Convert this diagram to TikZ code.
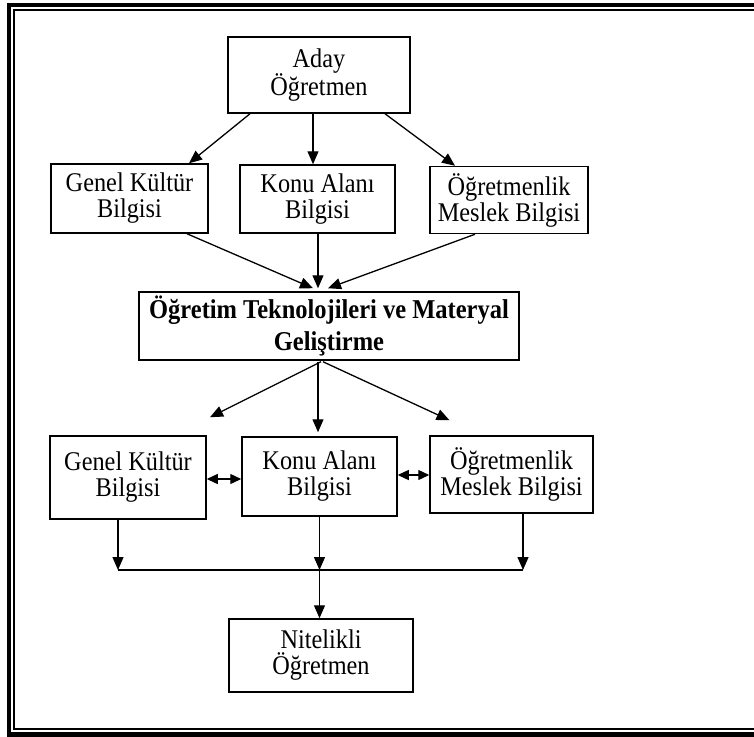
\documentclass[tikz,border=0pt]{standalone}
\usepackage{fontspec}
\setmainfont[FakeStretch=0.9]{Liberation Serif}
\usetikzlibrary{arrows.meta,calc}
\begin{document}
\begin{tikzpicture}[x=1pt,y=-1pt,
  box/.style={draw, line width=1.5pt, inner sep=0pt, align=center,
    font=\fontsize{27}{26}\selectfont},
  boldbox/.style={box, font=\bfseries\fontsize{27.2}{32}\selectfont},
  conn/.style={line width=1.3pt},
  arr/.style={conn, -{Triangle[length=13pt,width=11pt]}},
  darr/.style={conn, {Triangle[length=11pt,width=10pt]}-{Triangle[length=11pt,width=10pt]}},
  framethick/.style={line width=4.5pt},
  framethin/.style={line width=2pt}]
\useasboundingbox (0,0) rectangle (754,736);
% frame
\draw[framethick] (800,5) -- (9,5) -- (9,734.5) -- (800,734.5);
\draw[framethin] (800,10) -- (14,10) -- (14,729) -- (800,729);
% nodes
\node[box, minimum width=182pt, minimum height=76pt] (aday) at (319,75) {Aday\\Öğretmen};
\node[box, minimum width=157pt, minimum height=69pt] (g1) at (129.5,198.5) {Genel Kültür\\Bilgisi};
\node[box, minimum width=155pt, minimum height=68pt] (k1) at (317.5,199) {Konu Alanı\\Bilgisi};
\node[box, minimum width=158pt, minimum height=67pt] (o1) at (509,200) {Öğretmenlik\\Meslek Bilgisi};
\node[boldbox, minimum width=380pt, minimum height=68pt] (tek) at (329,326) {Öğretim Teknolojileri ve Materyal\\Geliştirme};
\node[box, minimum width=156pt, minimum height=83pt] (g2) at (128,477.5) {Genel Kültür\\Bilgisi};
\node[box, minimum width=155pt, minimum height=79pt] (k2) at (319.5,476.5) {Konu Alanı\\Bilgisi};
\node[box, minimum width=163pt, minimum height=77pt] (o2) at (511.5,474.5) {Öğretmenlik\\Meslek Bilgisi};
\node[box, minimum width=184pt, minimum height=73pt] (nit) at (321,655.5) {Nitelikli\\Öğretmen};
% top arrows
\draw[arr] ($(aday.south)+(-69,0)$) -- ($(g1.north)+(59.5,0)$);
\draw[arr] ($(aday.south)+(-6,0)$) -- ($(k1.north)+(-4.5,0)$);
\draw[arr] ($(aday.south)+(66,0)$) -- ($(o1.north)+(-54,0)$);
% into tek
\draw[arr] ($(g1.south)+(57.5,0)$) -- ($(tek.north)+(-16,-3)$);
\draw[arr] ($(k1.south)+(0.5,0)$) -- ($(tek.north)+(-11,-3)$);
\draw[arr] ($(o1.south)+(-34,0)$) -- ($(tek.north)+(-1,-3)$);
% out of tek
\draw[arr] ($(tek.south)+(-8,1)$) -- ($(g2.north)+(82,-18)$);
\draw[arr] ($(tek.south)+(-11,1)$) -- ($(k2.north)+(-1.5,-4)$);
\draw[arr] ($(tek.south)+(-6,1)$) -- ($(o2.north)+(-62,-15)$);
% double arrows
\draw[darr] ($(g2.east)+(0,1.5)$) -- ($(k2.west)+(0,2.5)$);
\draw[darr] ($(k2.east)+(0,-1.5)$) -- ($(o2.west)+(0,0.5)$);
% bottom join
\coordinate (jl) at (118,570);
\coordinate (jm) at (319.5,570);
\coordinate (jr) at (523,570);
\draw[arr] ($(g2.south)+(-10,0)$) -- (jl);
\draw[arr] (k2.south) -- (jm);
\draw[arr] ($(o2.south)+(11.5,0)$) -- (jr);
\draw[conn] (jl) -- (jr);
\draw[arr] (jm) -- (jm |- nit.north);
\end{tikzpicture}
\end{document}
